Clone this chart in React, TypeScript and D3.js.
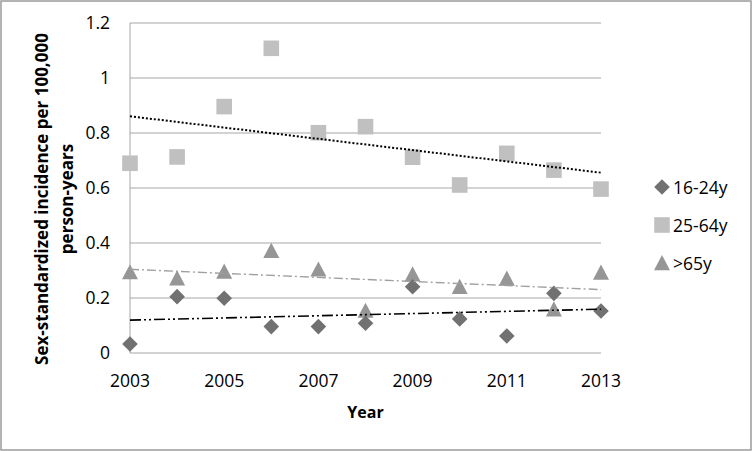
import React, { useEffect, useRef } from 'react';
import * as d3 from 'd3';

const years = [2003, 2004, 2005, 2006, 2007, 2008, 2009, 2010, 2011, 2012, 2013];
const age16to24 = [0.033, 0.205, 0.199, 0.096, 0.096, 0.108, 0.241, 0.124, 0.062, 0.217, 0.153];
const age25to64 = [0.69, 0.713, 0.896, 1.108, 0.801, 0.823, 0.712, 0.611, 0.726, 0.665, 0.596];
const age65plus = [0.294, 0.272, 0.296, 0.372, 0.304, 0.154, 0.286, 0.241, 0.271, 0.159, 0.293];
const seriesNames = ['16-24y', '25-64y', '>65y'];
const yTicks = [0, 0.2, 0.4, 0.6, 0.8, 1, 1.2];
const xTicks = [2003, 2005, 2007, 2009, 2011, 2013];

const FONT = "'Open Sans', sans-serif";

// least squares fit, like the Excel linear trendline
const fit = (xs: number[], ys: number[]) => {
	const mx = d3.mean(xs) as number;
	const my = d3.mean(ys) as number;
	let num = 0, den = 0;
	xs.forEach((x, i) => {
		num += (x - mx) * (ys[i] - my);
		den += (x - mx) * (x - mx);
	});
	const slope = num / den;
	return (x: number) => my + slope * (x - mx);
};

const markerPath = (shape: string, cx: number, cy: number) => {
	if (shape === 'diamond') {
		const r = 7.8;
		return `M${cx},${cy - r}L${cx + r},${cy}L${cx},${cy + r}L${cx - r},${cy}Z`;
	}
	if (shape === 'square') {
		const r = 7.8;
		return `M${cx - r},${cy - r}H${cx + r}V${cy + r}H${cx - r}Z`;
	}
	const h = 8;
	return `M${cx},${cy - h}L${cx + h},${cy + h * 0.9}L${cx - h},${cy + h * 0.9}Z`;
};

export default function App() {
	const ref = useRef<SVGSVGElement | null>(null);

	useEffect(() => {
		const width = 752;
		const height = 451;
		const margin = { top: 23, left: 130, right: 151, bottom: 98 };

		const svg = d3.select(ref.current);
		svg.selectAll('*').remove();

		svg.append('rect')
			.attr('x', 0).attr('y', 0)
			.attr('width', width).attr('height', height)
			.attr('fill', '#ffffff');

		svg.append('rect')
			.attr('x', 1).attr('y', 1)
			.attr('width', width - 2).attr('height', height - 2)
			.attr('fill', 'none')
			.attr('stroke', '#9a9a9a')
			.attr('stroke-width', 1.5);

		const x = d3.scaleLinear()
			.domain([2003, 2013])
			.range([margin.left, width - margin.right]);

		const y = d3.scaleLinear()
			.domain([0, 1.2])
			.range([height - margin.bottom, margin.top]);

		// gridlines
		svg.append('g')
			.selectAll('line')
			.data(yTicks)
			.join('line')
			.attr('x1', x(2003))
			.attr('x2', x(2013))
			.attr('y1', d => y(d))
			.attr('y2', d => y(d))
			.attr('stroke', '#a6a6a6')
			.attr('stroke-width', 1);

		svg.append('line')
			.attr('x1', x(2003)).attr('x2', x(2003))
			.attr('y1', y(0)).attr('y2', y(1.2))
			.attr('stroke', '#a6a6a6')
			.attr('stroke-width', 1);

		// tick labels
		svg.append('g')
			.selectAll('text')
			.data(yTicks)
			.join('text')
			.attr('x', x(2003) - 20)
			.attr('y', d => y(d) + 6)
			.attr('text-anchor', 'end')
			.style('font-family', FONT)
			.style('font-size', '17.5px')
			.style('fill', '#000')
			.text(d => d3.format('~g')(d));

		svg.append('g')
			.selectAll('text')
			.data(xTicks)
			.join('text')
			.attr('x', d => x(d))
			.attr('y', y(0) + 34)
			.attr('text-anchor', 'middle')
			.style('font-family', FONT)
			.style('font-size', '17.5px')
			.style('fill', '#000')
			.text(d => String(d));

		// axis titles
		svg.append('text')
			.attr('x', x(2008))
			.attr('y', 418)
			.attr('text-anchor', 'middle')
			.style('font-family', FONT)
			.style('font-size', '16px')
			.style('font-weight', 'bold')
			.text('Year');

		const yTitle = svg.append('text')
			.attr('transform', `translate(48, ${(y(0) + y(1.2)) / 2 + 11}) rotate(-90)`)
			.attr('text-anchor', 'middle')
			.style('font-family', FONT)
			.style('font-size', '17px')
			.style('font-weight', 'bold');
		yTitle.append('tspan').attr('x', 0).attr('y', 0).text('Sex-standardized incidence per 100,000');
		yTitle.append('tspan').attr('x', 0).attr('y', 25).text('person-years');

		const series = [
			{ name: seriesNames[0], values: age16to24, shape: 'diamond', color: '#717171', trendColor: '#000000', dash: '11,3,2,3,2,3', trendWidth: 1.6 },
			{ name: seriesNames[1], values: age25to64, shape: 'square', color: '#c0c0c0', trendColor: '#000000', dash: '2,2', trendWidth: 2 },
			{ name: seriesNames[2], values: age65plus, shape: 'triangle', color: '#969696', trendColor: '#a0a0a0', dash: '9,3,2,3', trendWidth: 1.4 },
		];

		// markers: squares first, then triangles, diamonds on top
		[series[1], series[2], series[0]].forEach(s => {
			svg.append('g')
				.selectAll('path')
				.data(s.values)
				.join('path')
				.attr('d', (d, i) => markerPath(s.shape, x(years[i]), y(d)))
				.attr('fill', s.color);
		});

		// trendlines
		series.forEach(s => {
			const f = fit(years, s.values);
			svg.append('line')
				.attr('x1', x(2003)).attr('y1', y(f(2003)))
				.attr('x2', x(2013)).attr('y2', y(f(2013)))
				.attr('stroke', s.trendColor)
				.attr('stroke-width', s.trendWidth)
				.attr('stroke-dasharray', s.dash);
		});

		// legend
		const legend = svg.append('g');
		series.forEach((s, i) => {
			const ly = 187 + i * 38;
			legend.append('path')
				.attr('d', markerPath(s.shape, 662, ly))
				.attr('fill', s.color);
			legend.append('text')
				.attr('x', 673)
				.attr('y', ly + 6.5)
				.style('font-family', FONT)
				.style('font-size', '17.5px')
				.text(s.name);
		});
	}, []);

	return (
		<svg
			ref={ref}
			width={752}
			height={451}
			style={{ position: 'absolute', left: 0, top: 0 }}
		/>
	);
}
